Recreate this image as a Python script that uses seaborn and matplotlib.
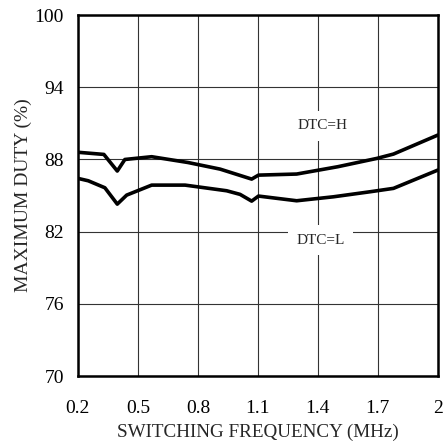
import matplotlib
matplotlib.use("Agg")
import matplotlib.pyplot as plt
import seaborn as sns
import pandas as pd

# Maximum duty vs switching frequency, two DTC settings
freq_h = [0.2, 0.33, 0.397, 0.435, 0.569, 0.75, 0.911, 1.069, 1.103, 1.294, 1.5, 1.695, 1.778, 2.0]
duty_h = [88.6, 88.42, 87.04, 88.0, 88.23, 87.75, 87.2, 86.37, 86.7, 86.79, 87.4, 88.09, 88.45, 90.03]

freq_l = [0.2, 0.252, 0.335, 0.397, 0.444, 0.569, 0.736, 0.944, 1.011, 1.069, 1.103, 1.294, 1.478, 1.662, 1.778, 2.0]
duty_l = [86.43, 86.23, 85.65, 84.29, 85.04, 85.87, 85.87, 85.4, 85.1, 84.54, 84.96, 84.57, 84.9, 85.32, 85.6, 87.12]

x_ticks = [0.2, 0.5, 0.8, 1.1, 1.4, 1.7, 2.0]
x_tick_labels = ["0.2", "0.5", "0.8", "1.1", "1.4", "1.7", "2"]
y_ticks = [70, 76, 82, 88, 94, 100]

df = pd.concat([
    pd.DataFrame({"freq": freq_h, "duty": duty_h, "mode": "DTC=H"}),
    pd.DataFrame({"freq": freq_l, "duty": duty_l, "mode": "DTC=L"}),
])

sns.set_style("white")
plt.rcParams["font.family"] = ["Liberation Serif", "DejaVu Serif"]

fig = plt.figure(figsize=(4.45, 4.43), dpi=100)
ax = fig.add_axes([0.175, 0.151, 0.809, 0.815])

ax.grid(True, color="#333333", linewidth=0.8, zorder=0)
ax.set_axisbelow(True)

sns.lineplot(data=df, x="freq", y="duty", units="mode", estimator=None,
             color="black", linewidth=2.6, sort=False, ax=ax, zorder=3)

ax.text(1.425, 90.8, "DTC=H", ha="center", va="center", fontsize=11,
        bbox=dict(facecolor="white", edgecolor="none", pad=6), zorder=4)
ax.text(1.415, 81.3, "DTC=L", ha="center", va="center", fontsize=11,
        bbox=dict(facecolor="white", edgecolor="none", pad=6), zorder=4)

ax.set_xlim(0.2, 2.0)
ax.set_ylim(70, 100)
ax.set_xticks(x_ticks)
ax.set_xticklabels(x_tick_labels)
ax.set_yticks(y_ticks)
ax.tick_params(axis="x", length=0, labelsize=14, pad=17, colors="black")
ax.tick_params(axis="y", length=0, labelsize=14, pad=10, colors="black")

ax.set_xlabel("SWITCHING FREQUENCY (MHz)", fontsize=13.8, labelpad=5)
ax.set_ylabel("MAXIMUM DUTY (%)", fontsize=14, labelpad=2)

for s in ax.spines.values():
    s.set_visible(True)
    s.set_color("black")
    s.set_linewidth(1.8)

fig.savefig("out.png", dpi=100)
